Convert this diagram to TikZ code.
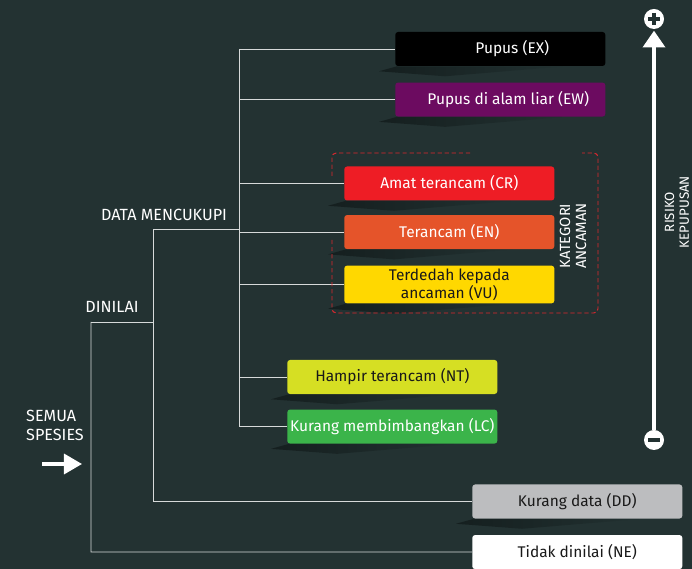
\documentclass[tikz,border=0pt]{standalone}
\usepackage{fontspec}
\setmainfont{Fira Sans}
\usepackage{xcolor}
\usetikzlibrary{arrows.meta,positioning,fadings,calc}

\definecolor{bgdark}{RGB}{35,50,50}
\definecolor{shadowdark}{RGB}{10,16,16}
\definecolor{linegray}{RGB}{215,218,218}
\definecolor{exblack}{RGB}{0,0,0}
\definecolor{ewpurple}{RGB}{108,11,96}
\definecolor{crred}{RGB}{238,29,37}
\definecolor{enorange}{RGB}{229,84,42}
\definecolor{vuyellow}{RGB}{255,216,0}
\definecolor{ntlime}{RGB}{214,223,35}
\definecolor{lcgreen}{RGB}{59,180,74}
\definecolor{ddgray}{RGB}{188,189,191}
\definecolor{dashred}{RGB}{224,40,46}
\definecolor{darktext}{RGB}{25,25,25}

\begin{document}
\begin{tikzpicture}[
  x=0.025cm, y=-0.025cm,
  cat/.style={
    rounded corners=2pt,
    minimum width=5.25cm,
    minimum height=0.85cm,
    align=center,
    inner sep=2pt,
    anchor=west
  },
  tree/.style={draw=linegray, line width=0.6pt},
  lbl/.style={text=white, inner sep=1pt, font=\fontsize{11.5}{13.5}\selectfont},
  sign/.style={circle, fill=white, minimum size=0.5cm, inner sep=0pt},
  font=\fontsize{11}{13}\selectfont
]
\useasboundingbox (0,0) rectangle (692,569);
\clip (0,0) rectangle (692,569);
\fill[bgdark] (0,0) rectangle (692,569);

% categories
\node[cat, fill=exblack, text=white] (ex) at (395,49) {\hspace*{0.6cm}Pupus (EX)};
\node[cat, fill=ewpurple, text=white, below=0.4cm of ex] (ew) {\hspace*{0.4cm}Pupus di alam liar (EW)};
\node[cat, fill=crred, text=white] (cr) at (344,183.5) {Amat terancam (CR)};
\node[cat, fill=enorange, text=white, below=0.35cm of cr] (en) {Terancam (EN)};
\node[cat, fill=vuyellow, text=darktext, below=0.4cm of en] (vu) {Terdedah kepada\\ancaman (VU)};
\node[cat, fill=ntlime, text=darktext] (nt) at (287,377) {Hampir terancam (NT)};
\node[cat, fill=lcgreen, text=white, below=0.375cm of nt] (lc) {Kurang membimbangkan (LC)};
\node[cat, fill=ddgray, text=darktext] (dd) at (472,501.5) {Kurang data (DD)};
\node[cat, fill=white, text=darktext, below=0.4cm of dd] (ne) {Tidak dinilai (NE)};

% soft shadows under the boxes
\foreach \n in {ex,ew,cr,en,vu,nt,lc,dd}
  \fill[shadowdark, path fading=east, fill opacity=0.55]
    ($(\n.south west)+(-16,5)$) -- ($(\n.south west)+(2,0)$)
    -- ($(\n.south east)+(-40,0)$) -- ($(\n.south west)+(50,10)$) -- cycle;

% branch points
\coordinate (d0t) at (91,322);
\coordinate (d0b) at (91,552);
\coordinate (d1t) at (153,229);
\coordinate (d1b) at (153,501.5);
\coordinate (d2t) at (239,49);
\coordinate (d2b) at (239,426);

\draw[tree] (d0t) -- (d0b) -- (ne.west);
\draw[tree] (d0t) -- (d0t -| d1t);
\draw[tree] (d1t) -- (d1b) -- (dd.west);
\draw[tree] (d1t) -- (d1t -| d2t);
\draw[tree] (d2t) -- (d2b);
\foreach \n in {ex,ew,cr,en,vu,nt,lc}
  \draw[tree] (d2t |- \n.west) -- (\n.west);

% tree labels
\node[lbl] (cukup) at (164,215) {DATA MENCUKUPI};
\node[lbl] (dinilai) at (112,307) {DINILAI};
\node[lbl, align=left] (semua) at (55,425) {SEMUA\\SPESIES};
\coordinate (masuk) at (42,464);
\coordinate (masukend) at (82,464);
\draw[white, line width=2.4pt, -{Triangle[width=0.5cm,length=0.45cm]}] (masuk) -- (masukend);

% threatened group
\draw[dashred, dash pattern=on 3pt off 2pt, line width=0.7pt, rounded corners=3pt]
  (470,153) -| (332,178);
\draw[dashred, dash pattern=on 3pt off 2pt, line width=0.7pt, rounded corners=3pt]
  (332,240) |- (598,313) |- (582,153);
\node[lbl, rotate=90, align=center, font=\fontsize{10.5}{11.5}\selectfont] (kategori) at (573,236) {KATEGORI\\ANCAMAN};

% risk scale
\node[sign] (plus) at (654,19) {};
\node[sign] (minus) at (654,440) {};
\draw[bgdark, line width=2.2pt] ($(plus)+(-6,0)$) -- ($(plus)+(6,0)$);
\draw[bgdark, line width=2.2pt] ($(plus)+(0,-6)$) -- ($(plus)+(0,6)$);
\draw[bgdark, line width=2.2pt] ($(minus)+(-6,0)$) -- ($(minus)+(6,0)$);
\draw[white, line width=2.6pt, -{Triangle[width=0.55cm,length=0.42cm]}, shorten >=1pt] (minus) -- (plus);
\node[lbl, rotate=90, align=center, font=\fontsize{9.5}{10.5}\selectfont] (risiko) at (677,212) {RISIKO\\KEPUPUSAN};
\end{tikzpicture}
\end{document}
